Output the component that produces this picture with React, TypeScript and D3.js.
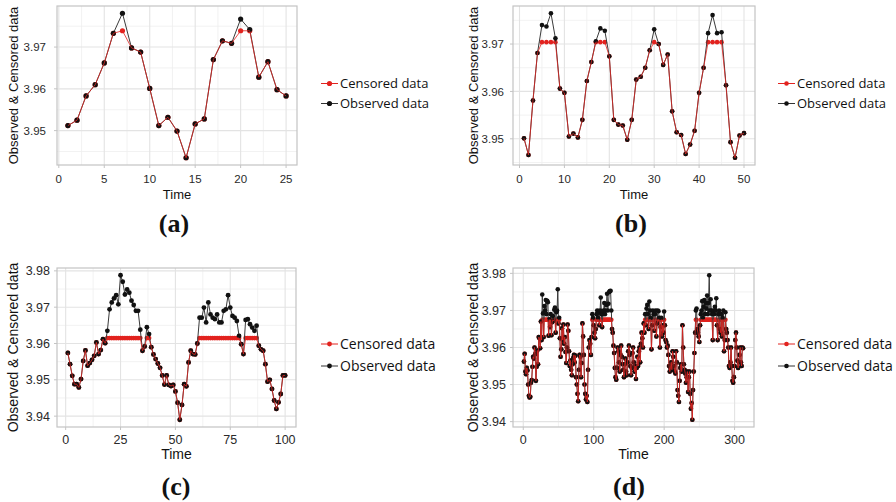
import React from "react";
import * as d3 from "d3";

// ---- Series (a): 25 time points ----
const observedA = [
  3.9512, 3.9525, 3.9583, 3.961, 3.9662, 3.9733, 3.9781, 3.9698, 3.9688, 3.9601,
  3.9512, 3.9532, 3.9499, 3.9435, 3.9516, 3.9528, 3.967, 3.9715, 3.9709, 3.9767,
  3.9742, 3.9628, 3.9665, 3.9598, 3.9583,
];
const limitA = 3.9739;

// ---- Series (b): 50 time points ----
const observedB = [
  3.9501, 3.9466, 3.9581, 3.9681, 3.974, 3.9737, 3.9765, 3.9712, 3.9606, 3.9597,
  3.9505, 3.9511, 3.9503, 3.954, 3.9622, 3.9662, 3.9706, 3.9733, 3.9728, 3.9674,
  3.954, 3.953, 3.9528, 3.9498, 3.954, 3.9625, 3.9631, 3.965, 3.9687, 3.9731,
  3.97, 3.9656, 3.9678, 3.9558, 3.9514, 3.9508, 3.9468, 3.9488, 3.9517, 3.9597,
  3.965, 3.9723, 3.9761, 3.9723, 3.9725, 3.9613, 3.9493, 3.946, 3.9507, 3.9512,
];
const limitB = 3.9704;

// ---- Series (c): 100 time points ----
const observedC = [
  3.9574, 3.9543, 3.9511, 3.9488, 3.9488, 3.9479, 3.9502, 3.9552, 3.9581, 3.9539,
  3.9546, 3.9555, 3.9566, 3.9603, 3.9571, 3.9582, 3.9612, 3.9601, 3.9635, 3.9694,
  3.9713, 3.9724, 3.9733, 3.9708, 3.9788, 3.977, 3.9735, 3.9749, 3.974, 3.9718,
  3.9706, 3.969, 3.969, 3.9638, 3.958, 3.9592, 3.9645, 3.9626, 3.959, 3.957,
  3.9557, 3.9545, 3.9533, 3.9512, 3.9487, 3.9512, 3.9486, 3.9483, 3.9486, 3.9468,
  3.9437, 3.939, 3.9431, 3.9488, 3.9482, 3.9548, 3.958, 3.9571, 3.957, 3.96,
  3.9671, 3.9671, 3.9699, 3.9658, 3.9713, 3.968, 3.9671, 3.9667, 3.968, 3.9658,
  3.9658, 3.969, 3.9694, 3.9733, 3.9699, 3.9676, 3.9671, 3.9662, 3.9621, 3.9598,
  3.9571, 3.9665, 3.9667, 3.9653, 3.9644, 3.9635, 3.9649, 3.9594, 3.9584, 3.958,
  3.9543, 3.9495, 3.95, 3.9475, 3.9443, 3.942, 3.9438, 3.9461, 3.9512, 3.9512,
];
const limitC = 3.9615;

// ---- Series (d): 312 time points ----
const observedD = [
  3.9562, 3.9583, 3.9535, 3.9528, 3.9545, 3.9538, 3.95, 3.947, 3.9465, 3.9467,
  3.9505, 3.9512, 3.9548, 3.9575, 3.957, 3.96, 3.9582, 3.951, 3.9548, 3.9592,
  3.9555, 3.9628, 3.9625, 3.9598, 3.967, 3.962, 3.9743, 3.9692, 3.9628, 3.9712,
  3.97, 3.9728, 3.969, 3.9726, 3.9722, 3.9632, 3.9676, 3.9655, 3.969, 3.9633,
  3.9668, 3.9685, 3.9672, 3.9702, 3.9708, 3.964, 3.9695, 3.97, 3.9757, 3.9665,
  3.968, 3.9625, 3.9575, 3.9595, 3.9652, 3.962, 3.9662, 3.961, 3.9628, 3.9588,
  3.9558, 3.96, 3.9662, 3.9645, 3.959, 3.955, 3.9565, 3.954, 3.9525, 3.9555,
  3.9572, 3.958, 3.956, 3.9578, 3.952, 3.95, 3.9475, 3.9455, 3.954, 3.958,
  3.9575, 3.952, 3.9558, 3.9665, 3.963, 3.958, 3.95, 3.9475, 3.946, 3.947,
  3.9453, 3.954, 3.96, 3.962, 3.961, 3.958, 3.9628, 3.969, 3.968, 3.966,
  3.964, 3.9625, 3.965, 3.969, 3.97, 3.968, 3.9695, 3.966, 3.97, 3.9735,
  3.969, 3.9655, 3.969, 3.97, 3.972, 3.969, 3.97, 3.9715, 3.9745, 3.97,
  3.9718, 3.975, 3.9752, 3.9753, 3.97, 3.965, 3.964, 3.9605, 3.9585, 3.9545,
  3.952, 3.9513, 3.9545, 3.96, 3.959, 3.956, 3.9535, 3.958, 3.9605, 3.9575,
  3.9555, 3.954, 3.952, 3.9555, 3.957, 3.9535, 3.9525, 3.956, 3.959, 3.9605,
  3.958, 3.955, 3.9525, 3.9545, 3.9585, 3.96, 3.956, 3.9535, 3.955, 3.9515,
  3.9545, 3.9575, 3.955, 3.959, 3.96, 3.956, 3.961, 3.964, 3.9625, 3.96,
  3.9665, 3.964, 3.969, 3.966, 3.9705, 3.9715, 3.969, 3.965, 3.9724, 3.97,
  3.968, 3.9595, 3.966, 3.97, 3.969, 3.9645, 3.969, 3.97, 3.963, 3.9665,
  3.97, 3.9698, 3.968, 3.96, 3.9655, 3.968, 3.963, 3.966, 3.964, 3.9697,
  3.966, 3.962, 3.9615, 3.96, 3.9605, 3.958, 3.955, 3.9535, 3.9545, 3.956,
  3.954, 3.959, 3.9575, 3.955, 3.9535, 3.953, 3.959, 3.956, 3.9485, 3.947,
  3.9453, 3.951, 3.9545, 3.9555, 3.9535, 3.966, 3.96, 3.9555, 3.954, 3.953,
  3.9505, 3.952, 3.9535, 3.948, 3.952, 3.9535, 3.9475, 3.9435, 3.945, 3.9405,
  3.9485, 3.9535, 3.9585, 3.964, 3.97, 3.9705, 3.965, 3.964, 3.963, 3.9615,
  3.966, 3.969, 3.97, 3.9725, 3.968, 3.971, 3.9728, 3.969, 3.972, 3.9705,
  3.974, 3.969, 3.972, 3.9795, 3.97, 3.973, 3.97, 3.969, 3.962, 3.97,
  3.969, 3.971, 3.97, 3.9733, 3.966, 3.962, 3.969, 3.97, 3.965, 3.964,
  3.969, 3.963, 3.968, 3.97, 3.959, 3.962, 3.9695, 3.965, 3.964, 3.962,
  3.96, 3.955, 3.9545, 3.956, 3.96, 3.955, 3.951, 3.9505, 3.952, 3.955,
  3.962, 3.964, 3.96, 3.9565, 3.9545, 3.956, 3.958, 3.96, 3.956, 3.955,
  3.96, 3.9598,
];
const limitD = 3.9675;

// ---- Axis breaks ----
const xTicksA = [0, 5, 10, 15, 20, 25];
const xTicksB = [0, 10, 20, 30, 40, 50];
const xTicksC = [0, 25, 50, 75, 100];
const xTicksD = [0, 100, 200, 300];
const yTicksAB = [3.95, 3.96, 3.97];
const yTicksCD = [3.94, 3.95, 3.96, 3.97, 3.98];

const legendLabels = ["Censored data", "Observed data"];
const yTitle = "Observed & Censored data";
const xTitle = "Time";
const captions = ["(a)", "(b)", "(c)", "(d)"];

const RED = "#e2231f";
const BLACK = "#111111";
const GRID_MAJOR = "#e3e3e3";
const GRID_MINOR = "#efefef";
const BORDER = "#c4c4c4";
const SANS = "'Liberation Sans', Arial, sans-serif";
const LEGEND_FONT = "'Open Sans', sans-serif";

type Layout = {
  box: { x: number; y: number; w: number; h: number };
  tickFont: number;
  titleFont: number;
  yTickRight: number;
  yTitleX: number;
  tickBaseline: number;
  timeBaseline: number;
  legendX: number;
  legendY: [number, number];
  legendFont: number;
  captionX: number;
  captionY: number;
  r: number;
};

function midpoints(ticks: number[], lo: number, hi: number): number[] {
  const step = ticks[1] - ticks[0];
  const out: number[] = [];
  for (let i = -1; i < ticks.length; i++) {
    const m = ticks[0] + step * (i + 0.5);
    if (m > lo && m < hi) out.push(m);
  }
  return out;
}

function Panel(props: {
  observed: number[];
  limit: number;
  xTicks: number[];
  yTicks: number[];
  caption: string;
  L: Layout;
}) {
  const { observed, limit, xTicks, yTicks, caption, L } = props;
  const n = observed.length;
  const censored = observed.map((v) => Math.min(v, limit));
  const pts = observed.map((v, i) => ({ t: i + 1, obs: v, cen: censored[i] }));

  const xPad = 0.05 * (n - 1);
  const x = d3
    .scaleLinear()
    .domain([1 - xPad, n + xPad])
    .range([L.box.x, L.box.x + L.box.w]);
  const [lo, hi] = d3.extent(observed.concat(censored)) as [number, number];
  const yPad = 0.05 * (hi - lo);
  const y = d3
    .scaleLinear()
    .domain([lo - yPad, hi + yPad])
    .range([L.box.y + L.box.h, L.box.y]);

  const [xd0, xd1] = x.domain();
  const [yd0, yd1] = y.domain();
  const xMinor = midpoints(xTicks, xd0, xd1);
  const yMinor = midpoints(yTicks, yd0, yd1);

  const lineObs = d3
    .line<(typeof pts)[number]>()
    .x((d) => x(d.t))
    .y((d) => y(d.obs));
  const lineCen = d3
    .line<(typeof pts)[number]>()
    .x((d) => x(d.t))
    .y((d) => y(d.cen));

  const left = L.box.x;
  const right = L.box.x + L.box.w;
  const top = L.box.y;
  const bottom = L.box.y + L.box.h;
  const cx = (left + right) / 2;
  const cy = (top + bottom) / 2;

  return (
    <g>
      {/* grid */}
      {xMinor.map((v) => (
        <line key={"xm" + v} x1={x(v)} x2={x(v)} y1={top} y2={bottom} stroke={GRID_MINOR} strokeWidth={0.8} />
      ))}
      {yMinor.map((v) => (
        <line key={"ym" + v} x1={left} x2={right} y1={y(v)} y2={y(v)} stroke={GRID_MINOR} strokeWidth={0.8} />
      ))}
      {xTicks.map((v) => (
        <line key={"xg" + v} x1={x(v)} x2={x(v)} y1={top} y2={bottom} stroke={GRID_MAJOR} strokeWidth={1.1} />
      ))}
      {yTicks.map((v) => (
        <line key={"yg" + v} x1={left} x2={right} y1={y(v)} y2={y(v)} stroke={GRID_MAJOR} strokeWidth={1.1} />
      ))}

      {/* censored points underneath */}
      {pts.map((d) => (
        <circle key={"cp" + d.t} cx={x(d.t)} cy={y(d.cen)} r={L.r} fill={RED} />
      ))}
      {/* observed series */}
      <path d={lineObs(pts) || ""} fill="none" stroke="#3a3a3a" strokeWidth={1} />
      {pts.map((d) => (
        <circle key={"op" + d.t} cx={x(d.t)} cy={y(d.obs)} r={L.r} fill={BLACK} />
      ))}
      {/* censored line on top */}
      <path d={lineCen(pts) || ""} fill="none" stroke={RED} strokeWidth={1} strokeOpacity={0.8} />

      {/* panel border */}
      <rect x={left} y={top} width={L.box.w} height={L.box.h} fill="none" stroke={BORDER} strokeWidth={1.2} />

      {/* x axis */}
      {xTicks.map((v) => (
        <g key={"xt" + v}>
          <line x1={x(v)} x2={x(v)} y1={bottom} y2={bottom + 3} stroke={BORDER} strokeWidth={1} />
          <text x={x(v)} y={L.tickBaseline} textAnchor="middle" fontFamily={SANS} fontSize={L.tickFont} fill="#2a2a2a">
            {v}
          </text>
        </g>
      ))}
      {/* y axis */}
      {yTicks.map((v) => (
        <g key={"yt" + v}>
          <line x1={left - 3} x2={left} y1={y(v)} y2={y(v)} stroke={BORDER} strokeWidth={1} />
          <text
            x={L.yTickRight}
            y={y(v)}
            dy="0.36em"
            textAnchor="end"
            fontFamily={SANS}
            fontSize={L.tickFont}
            fill="#2a2a2a"
          >
            {d3.format(".2f")(v)}
          </text>
        </g>
      ))}

      <text x={cx} y={L.timeBaseline} textAnchor="middle" fontFamily={SANS} fontSize={L.titleFont} fill="#111">
        {xTitle}
      </text>
      <text
        transform={`translate(${L.yTitleX},${cy}) rotate(-90)`}
        textAnchor="middle"
        fontFamily={SANS}
        fontSize={L.titleFont}
        fill="#111"
      >
        {yTitle}
      </text>

      {/* legend */}
      {legendLabels.map((lab, i) => {
        const ly = L.legendY[i];
        const col = i === 0 ? RED : BLACK;
        return (
          <g key={lab}>
            <line x1={L.legendX} x2={L.legendX + 17} y1={ly} y2={ly} stroke={i === 0 ? RED : "#333"} strokeWidth={1} />
            <circle cx={L.legendX + 8.5} cy={ly} r={L.r} fill={col} />
            <text
              x={L.legendX + 19}
              y={ly}
              dy="0.35em"
              fontFamily={LEGEND_FONT}
              fontSize={L.legendFont}
              fill="#111"
            >
              {lab}
            </text>
          </g>
        );
      })}

      <text
        x={L.captionX}
        y={L.captionY}
        textAnchor="middle"
        fontFamily="'Liberation Serif', 'Times New Roman', serif"
        fontWeight="bold"
        fontSize={26}
        fill="#111"
      >
        {caption}
      </text>
    </g>
  );
}

const layoutA: Layout = {
  box: { x: 57, y: 6, w: 240, h: 159 },
  tickFont: 11.5,
  titleFont: 13,
  yTickRight: 46,
  yTitleX: 18,
  tickBaseline: 183,
  timeBaseline: 199,
  legendX: 321,
  legendY: [83.5, 103.5],
  legendFont: 13,
  captionX: 174,
  captionY: 232,
  r: 2.6,
};
const layoutB: Layout = {
  ...layoutA,
  box: { x: 513, y: 6, w: 242, h: 159 },
  yTickRight: 504,
  yTitleX: 478,
  legendX: 778,
  captionX: 631,
  r: 2.3,
};
const layoutC: Layout = {
  box: { x: 57, y: 268, w: 239, h: 159 },
  tickFont: 12.5,
  titleFont: 14,
  yTickRight: 50,
  yTitleX: 18,
  tickBaseline: 444,
  timeBaseline: 459,
  legendX: 321,
  legendY: [344, 366],
  legendFont: 14,
  captionX: 176,
  captionY: 495,
  r: 2.4,
};
const layoutD: Layout = {
  ...layoutC,
  box: { x: 513, y: 268, w: 241, h: 159 },
  yTickRight: 506,
  yTitleX: 478,
  legendX: 778,
  captionX: 629,
  r: 2.3,
};

export default function App() {
  return (
    <svg
      width={896}
      height={502}
      viewBox="0 0 896 502"
      style={{ position: "absolute", left: 0, top: 0, background: "#fff" }}
    >
      <rect width={896} height={502} fill="#fff" />
      <Panel observed={observedA} limit={limitA} xTicks={xTicksA} yTicks={yTicksAB} caption={captions[0]} L={layoutA} />
      <Panel observed={observedB} limit={limitB} xTicks={xTicksB} yTicks={yTicksAB} caption={captions[1]} L={layoutB} />
      <Panel observed={observedC} limit={limitC} xTicks={xTicksC} yTicks={yTicksCD} caption={captions[2]} L={layoutC} />
      <Panel observed={observedD} limit={limitD} xTicks={xTicksD} yTicks={yTicksCD} caption={captions[3]} L={layoutD} />
    </svg>
  );
}
